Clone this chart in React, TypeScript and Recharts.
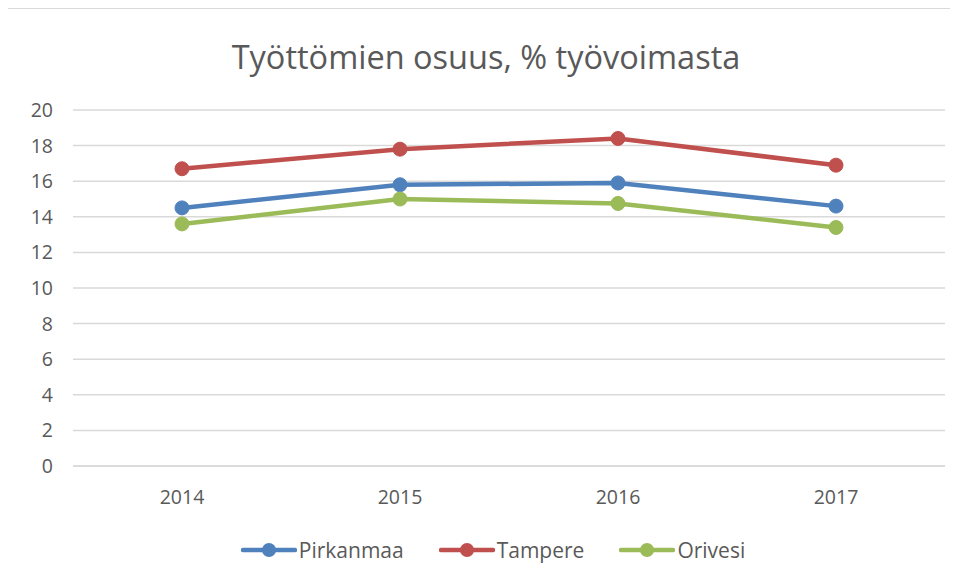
import { LineChart, Line, XAxis, YAxis, CartesianGrid } from "recharts";

const years = ["2014", "2015", "2016", "2017"];
const pirkanmaa = [14.5, 15.8, 15.9, 14.6];
const tampere = [16.7, 17.8, 18.4, 16.9];
const orivesi = [13.6, 15.0, 14.75, 13.4];
const yTicks = [0, 2, 4, 6, 8, 10, 12, 14, 16, 18, 20];

const series = [
  { key: "Pirkanmaa", color: "#4F81BD", values: pirkanmaa },
  { key: "Tampere", color: "#C0504D", values: tampere },
  { key: "Orivesi", color: "#9BBB59", values: orivesi },
];

const data = years.map((year, i) => {
  const row: Record<string, string | number> = { year };
  series.forEach((s) => (row[s.key] = s.values[i]));
  return row;
});

const font = "'Open Sans', sans-serif";
const textColor = "#595959";

export default function App() {
  return (
    <div
      style={{
        position: "relative",
        width: 958,
        height: 578,
        border: "1px solid #d9d9d9",
        marginLeft: -2,
        background: "#fff",
        fontFamily: font,
      }}
    >
      <div
        style={{
          position: "absolute",
          top: 25,
          left: 0,
          width: "100%",
          textAlign: "center",
          fontSize: 32.5,
          color: textColor,
        }}
      >
        Työttömien osuus, % työvoimasta
      </div>
      <LineChart
        width={956}
        height={576}
        data={data}
        margin={{ top: 101, right: 18, left: 0, bottom: 89 }}
      >
        <CartesianGrid vertical={false} stroke="#d9d9d9" strokeWidth={1.5} />
        <XAxis
          dataKey="year"
          padding={{ left: 109, right: 109 }}
          axisLine={{ stroke: "#d9d9d9", strokeWidth: 1.5 }}
          tickLine={false}
          tickMargin={18}
          tick={{ fill: textColor, fontSize: 19.5, fontFamily: font }}
        />
        <YAxis
          domain={[0, 20]}
          ticks={yTicks}
          interval={0}
          width={66}
          axisLine={false}
          tickLine={false}
          tickMargin={14}
          tick={{ fill: textColor, fontSize: 19.5, fontFamily: font }}
        />
        {series.map((s) => (
          <Line
            key={s.key}
            dataKey={s.key}
            stroke={s.color}
            strokeWidth={4.5}
            dot={{ r: 7, fill: s.color, stroke: s.color, strokeWidth: 1 }}
            activeDot={false}
            isAnimationActive={false}
          />
        ))}
      </LineChart>
      <div
        style={{
          position: "absolute",
          top: 527,
          left: 0,
          width: "100%",
          display: "flex",
          justifyContent: "center",
          paddingLeft: 14,
          boxSizing: "border-box",
          gap: 35,
          fontSize: 21,
          color: textColor,
        }}
      >
        {series.map((s) => (
          <div key={s.key} style={{ display: "flex", alignItems: "center" }}>
            <svg width={56} height={20} style={{ marginRight: 2 }}>
              <line x1={2} y1={10} x2={54} y2={10} stroke={s.color} strokeWidth={4.5} strokeLinecap="round" />
              <circle cx={28} cy={10} r={7} fill={s.color} />
            </svg>
            <span>{s.key}</span>
          </div>
        ))}
      </div>
    </div>
  );
}
